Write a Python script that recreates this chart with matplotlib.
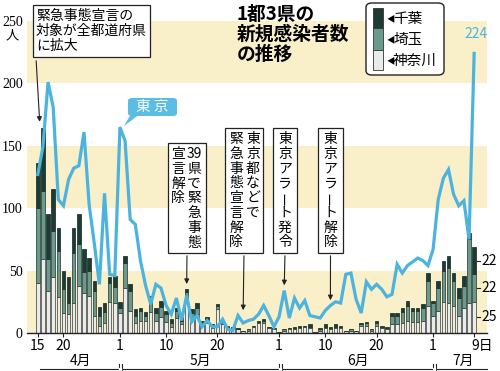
import numpy as np
import matplotlib
matplotlib.use("Agg")
import matplotlib.pyplot as plt
from matplotlib.patches import Rectangle, FancyBboxPatch, Polygon

JP = ['Noto Sans CJK JP', 'DejaVu Sans']
plt.rcParams['font.family'] = JP

# 2020/4/15 - 7/9 (daily)
tokyo = [127, 149, 201, 181, 107, 102, 123, 132, 134, 161,
         103, 72, 39, 112, 47, 46, 165, 154, 91, 87,
         58, 38, 23, 39, 36, 22, 15, 28, 10, 30,
         9, 14, 5, 10, 5, 5, 11, 3, 2, 14,
         8, 10, 11, 15, 22, 14, 5, 13, 34, 12,
         28, 20, 26, 14, 13, 12, 18, 22, 25, 24,
         47, 48, 27, 16, 41, 35, 39, 35, 29, 31,
         55, 48, 54, 57, 60, 58, 54, 67, 107, 124,
         131, 111, 102, 106, 75, 224]
chiba = [36, 50, 36, 33, 18, 15, 21, 20, 24, 18,
         10, 8, 7, 7, 5, 9, 5, 6, 5, 5,
         2, 3, 3, 4, 5, 3, 3, 2, 3, 2,
         3, 4, 2, 2, 1, 1, 1, 1, 0, 1,
         0, 0, 0, 1, 1, 0, 0, 0, 0, 0,
         1, 1, 0, 2, 0, 1, 2, 1, 2, 1,
         0, 0, 0, 1, 1, 0, 2, 1, 1, 2,
         2, 3, 4, 2, 2, 3, 6, 2, 6, 8,
         10, 6, 8, 8, 5, 22]
saitama = [60, 55, 25, 37, 37, 19, 9, 40, 33, 17,
           20, 20, 8, 9, 15, 13, 4, 20, 16, 6,
           8, 4, 10, 6, 8, 6, 3, 6, 3, 8,
           5, 5, 2, 3, 2, 3, 2, 1, 1, 0,
           0, 1, 1, 1, 2, 1, 1, 0, 1, 1,
           1, 1, 1, 1, 0, 1, 1, 1, 1, 1,
           0, 1, 0, 1, 2, 1, 2, 1, 1, 7,
           7, 9, 12, 9, 9, 10, 20, 10, 18, 25,
           28, 20, 14, 18, 51, 22]
kanagawa = [40, 59, 34, 45, 29, 16, 15, 24, 38, 32,
            30, 14, 6, 8, 25, 24, 16, 36, 18, 8,
            10, 10, 17, 10, 13, 9, 5, 12, 7, 25,
            11, 15, 6, 8, 4, 19, 7, 4, 4, 3,
            2, 2, 5, 8, 8, 4, 3, 1, 2, 3,
            3, 4, 5, 4, 1, 2, 4, 3, 4, 4,
            2, 2, 2, 6, 6, 2, 6, 4, 3, 7,
            7, 8, 10, 9, 9, 10, 22, 14, 18, 25,
            24, 22, 14, 20, 24, 25]

tick_pos = [0, 5, 16, 25, 35, 47, 56, 66, 77]
tick_lab = ['15', '20', '1', '10', '20', '1', '10', '20', '1']
months = ['4月', '5月', '6月', '7月']

C_DARK = '#1f3933'
C_MID = '#6a9a8b'
C_LIGHT = '#e8edeb'
C_LINE = '#4cb3de'
C_BAND = '#f9efc9'

W, H = 500, 371


def fp(x, y):
    return x / W, 1 - y / H


fig = plt.figure(figsize=(5, 3.71), dpi=100)
ax = fig.add_axes([27 / W, 1 - 333 / H, 460 / W, (333 - 18.5) / H])

x = np.arange(len(tokyo))
k = np.array(kanagawa)
s = np.array(saitama)
c = np.array(chiba)

for lo in (0, 100, 200):
    ax.axhspan(lo, lo + 50, color=C_BAND, lw=0, zorder=0)

ax.bar(x, k, width=0.68, color=C_LIGHT, edgecolor='#555555', lw=0.6, zorder=2)
ax.bar(x, s, bottom=k, width=0.68, color=C_MID, edgecolor='#3a4a45', lw=0.6, zorder=2)
ax.bar(x, c, bottom=k + s, width=0.68, color=C_DARK, edgecolor=C_DARK, lw=0.6, zorder=2)
ax.plot(x, tokyo, color=C_LINE, lw=2.3, zorder=3, solid_joinstyle='miter')

ax.set_xlim(-2.1, 87.5)
ax.set_ylim(0, 252)
for sp in ('left', 'right', 'top'):
    ax.spines[sp].set_visible(False)
ax.spines['bottom'].set_color('#222222')
ax.spines['bottom'].set_linewidth(1.0)

ax.set_yticks([0, 50, 100, 150, 200, 250])
ax.set_yticklabels(['0', '50', '100', '150', '200', '250'],
                   family='Liberation Serif', fontsize=10)
ax.tick_params(axis='y', length=0, pad=3)
ax.set_xticks(tick_pos + [85])
ax.set_xticklabels(tick_lab + [''], fontsize=10)
ax.tick_params(axis='x', length=3, width=0.8, pad=1, color='#222222')
ax.text(84.4, -4.5, '9日', ha='left', va='top', fontsize=10)
fig.text(*fp(12, 36), '人', ha='center', va='center', fontsize=9.5)

# month labels + bracket line
for lab, mx in zip(months, [80, 200, 358, 463]):
    fig.text(*fp(mx, 361), lab, ha='center', va='center', fontsize=10)
fig.add_artist(plt.Line2D([40 / W, 487 / W], [1 - 369 / H] * 2, color='#222222', lw=0.8))
for bx in (118.5, 121.5, 278.5, 281.5, 432.5, 435.5):
    fig.add_artist(plt.Line2D([bx / W] * 2, [1 - 364 / H, 1 - 372 / H], color='#222222', lw=0.8))
for bx in (120, 280, 434):
    fig.add_artist(Rectangle(((bx - 1) / W, 1 - 370.5 / H), 2 / W, 3 / H,
                             transform=fig.transFigure, color='white', zorder=5))

# latest-day values (right side)
vals = [k[-1], s[-1], c[-1]]
mids = np.cumsum(vals) - np.array(vals) / 2
for v, m in zip(vals, mids):
    ax.plot([85.6, 86.2], [m, m], color='#222222', lw=0.8, clip_on=False)
    ax.text(86.4, m, str(v), ha='left', va='center', fontsize=10, clip_on=False)

ax.text(85.4, tokyo[-1] + 10, str(tokyo[-1]), ha='center', va='bottom',
        fontsize=10, color=C_LINE)

# title
fig.text(*fp(237, 5), '1都3県の\n新規感染者数\nの推移', ha='left', va='top',
         fontsize=13.5, fontweight='bold', linespacing=1.05)

# legend
fig.add_artist(FancyBboxPatch((366 / W, 1 - 75 / H), 78 / W, 72 / H,
                              boxstyle='round,pad=0,rounding_size=0.012',
                              transform=fig.transFigure, fc='white', ec='#222222', lw=1.0))
for col, y0, y1 in ((C_DARK, 8, 28), (C_MID, 28, 50), (C_LIGHT, 50, 70)):
    fig.add_artist(Rectangle((373 / W, 1 - y1 / H), 10 / W, (y1 - y0) / H,
                             transform=fig.transFigure, fc=col, ec='#333333', lw=0.6))
for lab, ly in (('千葉', 19), ('埼玉', 40), ('神奈川', 61)):
    fig.text(*fp(386, ly), '◀', ha='left', va='center', fontsize=6)
    fig.text(*fp(393, ly), lab, ha='left', va='center', fontsize=10.5)

# Tokyo tag
fig.add_artist(FancyBboxPatch((128 / W, 1 - 116 / H), 49 / W, 18 / H,
                              boxstyle='round,pad=0,rounding_size=0.008',
                              transform=fig.transFigure, fc='#5bbce4', ec='none'))
fig.add_artist(Polygon([fp(131, 114), fp(140, 114), fp(124, 126)], closed=True,
                       transform=fig.transFigure, fc='#5bbce4', ec='none'))
fig.text(*fp(152.5, 107), '東 京', ha='center', va='center', fontsize=10.5, color='white')

# annotation: expanded declaration
fig.text(*fp(36, 31), '緊急事態宣言の\n対象が全都道府県\nに拡大', ha='left', va='center',
         fontsize=10, linespacing=1.1,
         bbox=dict(boxstyle='square,pad=0.25', fc='white', ec='#222222', lw=0.9))
ax.annotate('', xy=(0.4, 167), xycoords='data', xytext=(36, H - 58), textcoords='figure pixels',
            arrowprops=dict(arrowstyle='-|>', color='#222222', lw=0.8, mutation_scale=7))


def vbox(x0, x1, y0, y1, cols, tip, step=14.7):
    fig.add_artist(Rectangle((x0 / W, 1 - y1 / H), (x1 - x0) / W, (y1 - y0) / H,
                             transform=fig.transFigure, fc='white', ec='#222222', lw=0.9))
    for cx, chars in cols:
        for i, ch in enumerate(chars):
            fig.text(*fp(cx, y0 + 4 + step * (i + 0.5)), ch, ha='center', va='center',
                     fontsize=10, rotation=90 if ch == 'ー' else 0)
    xm = (x0 + x1) / 2
    ax.annotate('', xy=tip, xycoords='data', xytext=(xm, H - y1), textcoords='figure pixels',
                arrowprops=dict(arrowstyle='-|>', color='#222222', lw=0.8, mutation_scale=7))


vbox(168, 206, 143, 253, [(194, ['39', '県', 'で', '緊', '急', '事', '態']),
                          (178, ['宣', '言', '解', '除'])], (29, 37))
vbox(225, 263, 128, 253, [(253, list('東京都などで')),
                          (236, list('緊急事態宣言解除'))], (40, 16))
vbox(273, 297, 128, 253, [(285, list('東京アラート発令'))], (48, 36))
vbox(318, 343, 128, 253, [(330.5, list('東京アラート解除'))], (57, 24))

fig.savefig('out.png', dpi=100)
